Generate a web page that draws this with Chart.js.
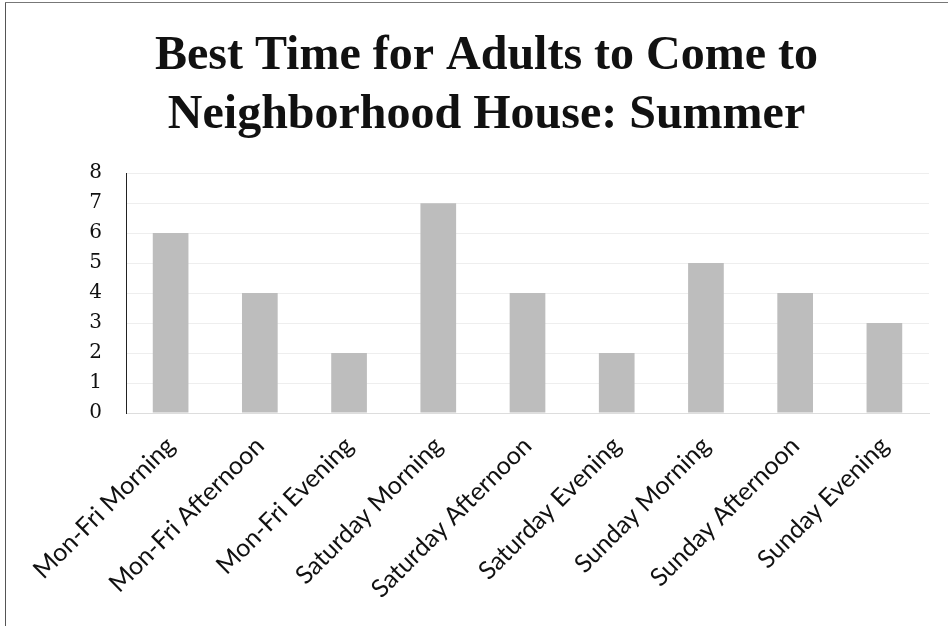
<!DOCTYPE html>
<html>
<head>
<meta charset="utf-8">
<script src="https://cdn.jsdelivr.net/npm/chart.js@4/dist/chart.umd.min.js"></script>
<style>
  html, body { margin: 0; padding: 0; background: #fff; }
  #wrap { position: relative; width: 948px; height: 626px; overflow: hidden; }
  canvas { display: block; }
  .edge-left { position: absolute; left: 5px; top: 2px; width: 1px; height: 624px; background: #555; }
  .edge-top { position: absolute; left: 5px; top: 2px; width: 943px; height: 1px; background: #777; }
</style>
</head>
<body>
<div id="wrap">
  <canvas id="c" width="948" height="626"></canvas>
  <div class="edge-left"></div>
  <div class="edge-top"></div>
</div>
<script>
const titleLines = ['Best Time for Adults to Come to', 'Neighborhood House: Summer'];
const categories = ['Mon-Fri Morning', 'Mon-Fri Afternoon', 'Mon-Fri Evening', 'Saturday Morning', 'Saturday Afternoon', 'Saturday Evening', 'Sunday Morning', 'Sunday Afternoon', 'Sunday Evening'];
const responses = [6, 4, 2, 7, 4, 2, 5, 4, 3];
const yTicks = [0, 1, 2, 3, 4, 5, 6, 7, 8];

new Chart(document.getElementById('c'), {
  type: 'bar',
  data: {
    labels: categories,
    datasets: [{
      data: responses,
      backgroundColor: '#bdbdbd',
      borderWidth: 0,
      barPercentage: 0.4,
      categoryPercentage: 1.0
    }]
  },
  options: {
    responsive: false,
    animation: false,
    layout: { padding: { left: 44, right: 19, top: 0, bottom: 0 } },
    plugins: {
      legend: { display: false },
      tooltip: { enabled: false },
      title: {
        display: true,
        text: titleLines,
        color: '#111',
        font: { family: '"Liberation Serif", serif', size: 48, weight: 'bold', lineHeight: 1.21 },
        padding: { top: 28, bottom: 29 }
      }
    },
    scales: {
      x: {
        grid: { display: false, drawTicks: false },
        border: { display: true, color: '#dddddd', width: 1 },
        ticks: {
          color: '#111',
          font: { family: 'Lato, sans-serif', size: 25 },
          maxRotation: 45, minRotation: 45,
          padding: 18,
          autoSkip: false
        },
        afterFit: (s) => { s.height = 213; }
      },
      y: {
        min: 0, max: 8,
        afterBuildTicks: (s) => { s.ticks = yTicks.map(v => ({ value: v })); },
        grid: { color: '#eeeeee', drawTicks: false },
        border: { display: true, color: '#222', width: 1 },
        ticks: {
          color: '#111',
          font: { family: '"DejaVu Serif", serif', size: 20 },
          padding: 24
        },
        afterFit: (s) => { s.width = 82; }
      }
    }
  }
});
</script>
</body>
</html>
